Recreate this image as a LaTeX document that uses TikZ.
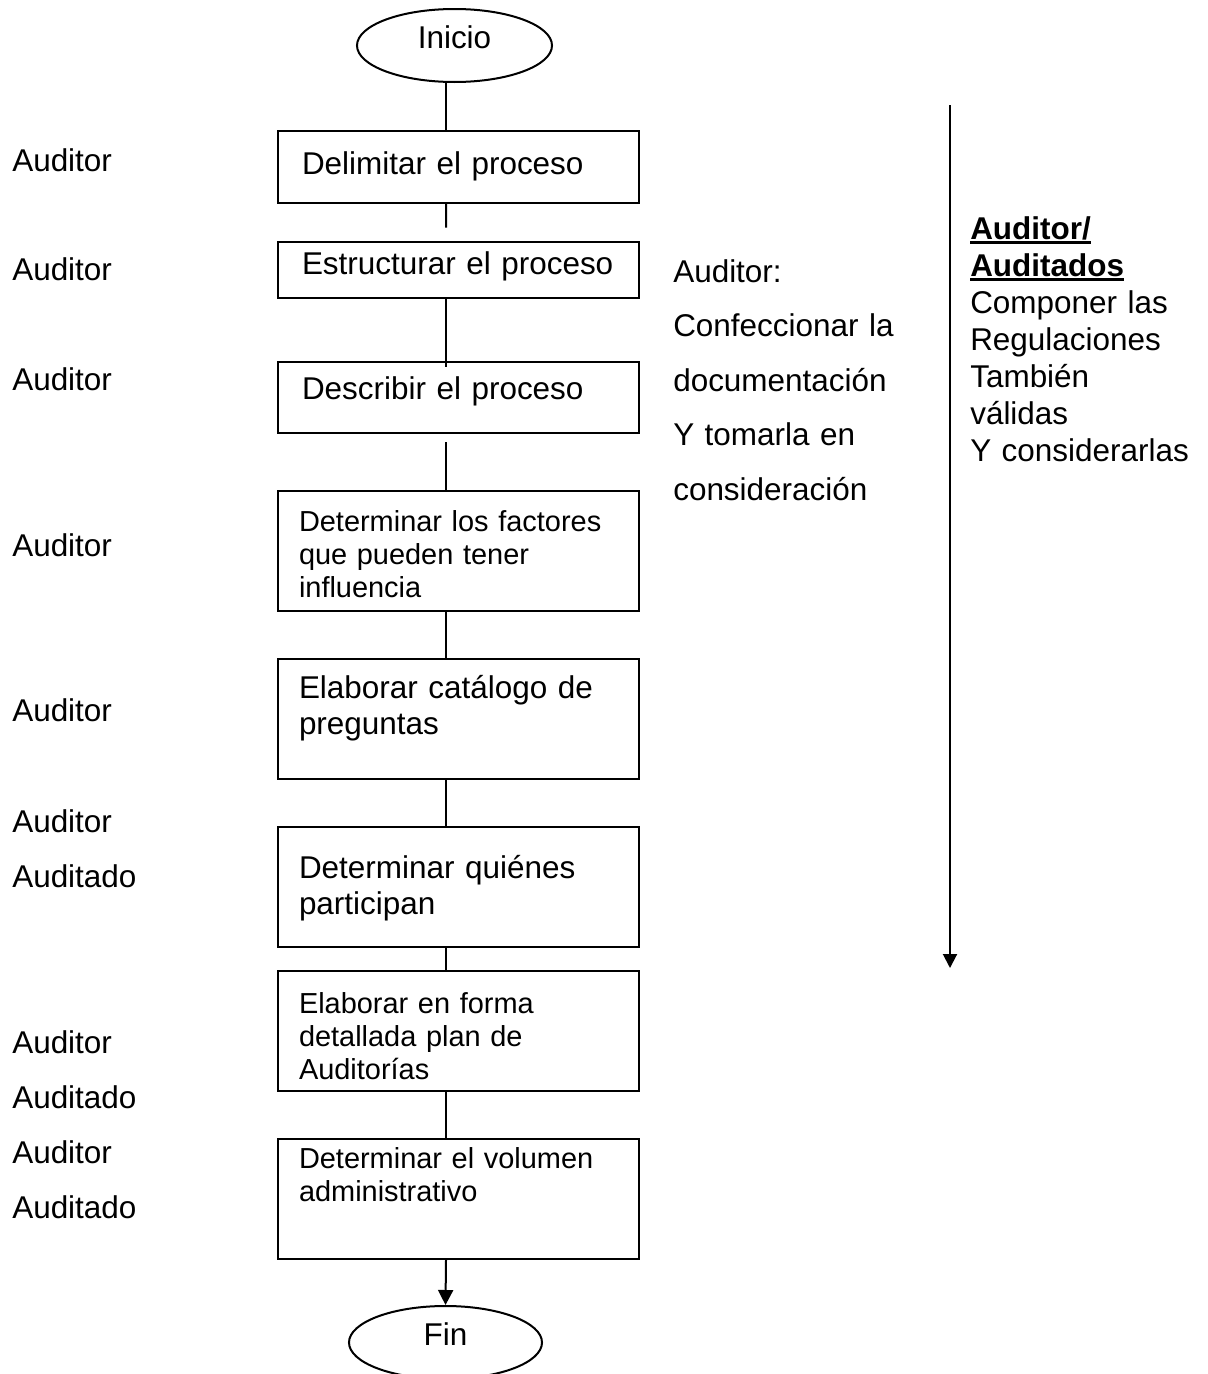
\documentclass[tikz,border=0pt]{standalone}
\usepackage{fontspec}
\setmainfont{Liberation Sans}
\usetikzlibrary{arrows.meta,shapes.geometric,calc}
\newcommand\fbig{\fontsize{23.6pt}{27.15pt}\selectfont}
\newcommand\fsmall{\fontsize{21.7pt}{24.95pt}\selectfont}
\newcommand\fmid{\fontsize{23.6pt}{40.9pt}\selectfont}
\newcommand\fright{\fontsize{23.6pt}{27.75pt}\selectfont}
\newsavebox\ulbox
\newcommand\myul[1]{\sbox\ulbox{#1}\rlap{\rule[-3.75pt]{\wd\ulbox}{2.25pt}}\usebox\ulbox}
\tikzset{
  stepbox/.style={draw, line width=1.5pt, rectangle, anchor=north west,
    inner xsep=15.75pt, inner ysep=0pt, text width=239.25pt, align=left, font=\fbig},
  wide/.style={inner xsep=18pt, text width=234.75pt},
  smalltext/.style={font=\fsmall},
  term/.style={draw, ellipse, line width=1.5pt, minimum width=146.25pt,
    minimum height=54.75pt, inner sep=0pt, font=\fbig, text height=15pt, text depth=11.25pt},
  lab/.style={anchor=base west, inner sep=0pt, font=\fbig},
  conn/.style={line width=1.5pt},
}
\begin{document}
\begin{tikzpicture}[x=0.75pt,y=-0.75pt]
\useasboundingbox (0,0) rectangle (1207,1374);
\coordinate (ax) at (446,0);
% terminals
\node[term] (ini) at (454.5,45.5) {Inicio};
\node[term, minimum width=144.75pt] (fin) at (445.5,1342.5) {Fin\hspace{9.75pt}};
% boxes
\node[stepbox, wide, text height=32.25pt, text depth=21.75pt] (b1) at (277,130) {Delimitar el proceso};
\node[stepbox, wide, text height=24pt, text depth=18pt] (b2) at (277,241) {Estructurar el proceso};
\node[stepbox, wide, text height=27.75pt, text depth=25.5pt] (b3) at (277,361) {Describir el proceso};
\node[stepbox, smalltext, text height=30pt, text depth=60pt] (b4) at (277,490) {Determinar los factores\\que pueden tener\\influencia};
\node[stepbox, text height=29.25pt, text depth=60.75pt] (b5) at (277,658) {Elaborar catálogo de\\preguntas};
\node[stepbox, text height=38.25pt, text depth=51.75pt] (b6) at (277,826) {Determinar quiénes\\participan};
\node[stepbox, smalltext, text height=31.5pt, text depth=58.5pt] (b7) at (277,970) {Elaborar en forma\\detallada plan de\\Auditorías};
\node[stepbox, smalltext, text height=21.75pt, text depth=68.25pt] (b8) at (277,1138) {Determinar el volumen\\administrativo};
% connectors
\draw[conn] (ini.south -| ax) -- (b1.north -| ax);
\draw[conn] (b1.south -| ax) -- ($(b1.south -| ax)!0.64!(b2.north -| ax)$);
\draw[conn] (b2.south -| ax) -- ($(b3.north -| ax)+(0,6)$);
\draw[conn] ($(b3.south -| ax)+(0,8)$) -- (b4.north -| ax);
\draw[conn] (b4.south -| ax) -- (b5.north -| ax);
\draw[conn] (b5.south -| ax) -- (b6.north -| ax);
\draw[conn] (b6.south -| ax) -- (b7.north -| ax);
\draw[conn] (b7.south -| ax) -- (b8.north -| ax);
\draw[conn, -{Triangle[width=11.25pt,length=11.25pt]}] (b8.south -| ax) -- (fin.north);
% left role labels
\node[lab] (l1) at (12,171) {Auditor};
\node[lab] (l2) at (12,280) {Auditor};
\node[lab] (l3) at (12,390) {Auditor};
\node[lab] (l4) at (12,556) {Auditor};
\node[lab] (l5) at (12,721) {Auditor};
\node[lab] (l6) at (12,832) {Auditor};
\node[lab] (l7) at (12,887) {Auditado};
\node[lab] (l8) at (12,1053) {Auditor};
\node[lab] (l9) at (12,1108) {Auditado};
\node[lab] (l10) at (12,1163) {Auditor};
\node[lab] (l11) at (12,1218) {Auditado};
% middle note
\node[anchor=base west, inner sep=0pt, text width=180pt, align=left, font=\fmid] (mid) at (673,282)
  {Auditor:\\Confeccionar la\\documentación\\Y tomarla en\\consideración};
% right arrow and note
\coordinate (rtop) at (950,105);
\coordinate (rbot) at (950,968);
\draw[conn, -{Triangle[width=10.5pt,length=10.5pt]}] (rtop) -- (rbot);
\node[anchor=base west, inner sep=0pt, text width=176.25pt, align=left, font=\fright] (rt) at (970,239)
  {\textbf{\myul{Auditor/}}\\\textbf{\myul{Auditados}}\\Componer las\\Regulaciones\\También\\válidas\\Y considerarlas};
\end{tikzpicture}
\end{document}
